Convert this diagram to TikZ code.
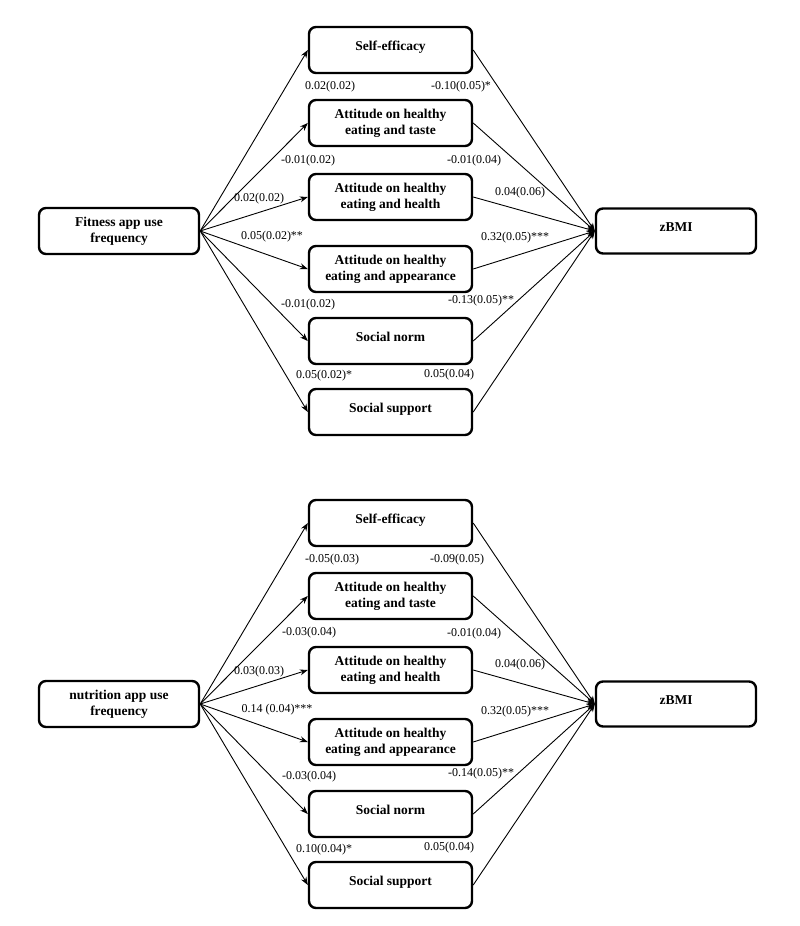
\documentclass[tikz,border=0pt]{standalone}
\usepackage{fontspec}
\setmainfont{Liberation Serif}
\usetikzlibrary{arrows.meta}
\newcommand{\oneline}[1]{\raisebox{0pt}[0pt][0pt]{#1}}
\begin{document}
\begin{tikzpicture}[x=1pt,y=-1pt,
  box/.style={draw, line width=2.4pt, rounded corners=7pt, minimum width=163pt, minimum height=46pt,
              font=\bfseries\fontsize{13.5}{16}\selectfont, align=center, inner sep=0pt},
  side/.style={box, minimum width=160pt},
  coef/.style={font=\fontsize{12}{14}\selectfont, inner sep=0pt},
  arr/.style={line width=0.9pt, -{Stealth[length=8pt,width=6pt]}}]
\useasboundingbox (0,0) rectangle (800,926);

% ---------- top panel ----------
\node[side] (fx) at (119,231) {Fitness app use\\frequency};
\node[side, minimum height=45pt] (fy) at (676,231) {\oneline{zBMI}};
\node[box] (f1) at (390.5,50) {\oneline{Self-efficacy}};
\node[box] (f2) at (390.5,123) {Attitude on healthy\\eating and taste};
\node[box] (f3) at (390.5,197) {Attitude on healthy\\eating and health};
\node[box] (f4) at (390.5,269) {Attitude on healthy\\eating and appearance};
\node[box] (f5) at (390.5,341) {\oneline{Social norm}};
\node[box] (f6) at (390.5,412) {\oneline{Social support}};
\foreach \m in {f1,f2,f3,f4,f5,f6}{
  \draw[arr] (fx.east) -- (\m.west);
  \draw[arr] (\m.east) -- (fy.west);
}
\node[coef] (fa1) at (330,87) {0.02(0.02)};
\node[coef] (fb1) at (461,87) {-0.10(0.05)*};
\node[coef] (fa2) at (308,161) {-0.01(0.02)};
\node[coef] (fb2) at (474,161) {-0.01(0.04)};
\node[coef] (fa3) at (259,199) {0.02(0.02)};
\node[coef] (fb3) at (520,193) {0.04(0.06)};
\node[coef] (fa4) at (272,237) {0.05(0.02)**};
\node[coef] (fb4) at (515,238) {0.32(0.05)***};
\node[coef] (fa5) at (308,305) {-0.01(0.02)};
\node[coef] (fb5) at (481,301) {-0.13(0.05)**};
\node[coef] (fa6) at (324,376) {0.05(0.02)*};
\node[coef] (fb6) at (449,375) {0.05(0.04)};

% ---------- bottom panel ----------
\node[side] (nx) at (119,704) {nutrition app use\\frequency};
\node[side, minimum height=45pt] (ny) at (676,704) {\oneline{zBMI}};
\node[box] (n1) at (390.5,523) {\oneline{Self-efficacy}};
\node[box] (n2) at (390.5,596) {Attitude on healthy\\eating and taste};
\node[box] (n3) at (390.5,670) {Attitude on healthy\\eating and health};
\node[box] (n4) at (390.5,742) {Attitude on healthy\\eating and appearance};
\node[box] (n5) at (390.5,814) {\oneline{Social norm}};
\node[box] (n6) at (390.5,885) {\oneline{Social support}};
\foreach \m in {n1,n2,n3,n4,n5,n6}{
  \draw[arr] (nx.east) -- (\m.west);
  \draw[arr] (\m.east) -- (ny.west);
}
\node[coef] (na1) at (332,560) {-0.05(0.03)};
\node[coef] (nb1) at (457,560) {-0.09(0.05)};
\node[coef] (na2) at (309,633) {-0.03(0.04)};
\node[coef] (nb2) at (474,634) {-0.01(0.04)};
\node[coef] (na3) at (259,672) {0.03(0.03)};
\node[coef] (nb3) at (520,665) {0.04(0.06)};
\node[coef] (na4) at (277,710) {0.14 (0.04)***};
\node[coef] (nb4) at (515,712) {0.32(0.05)***};
\node[coef] (na5) at (309,777) {-0.03(0.04)};
\node[coef] (nb5) at (481,774) {-0.14(0.05)**};
\node[coef] (na6) at (324,850) {0.10(0.04)*};
\node[coef] (nb6) at (449,848) {0.05(0.04)};
\end{tikzpicture}
\end{document}
